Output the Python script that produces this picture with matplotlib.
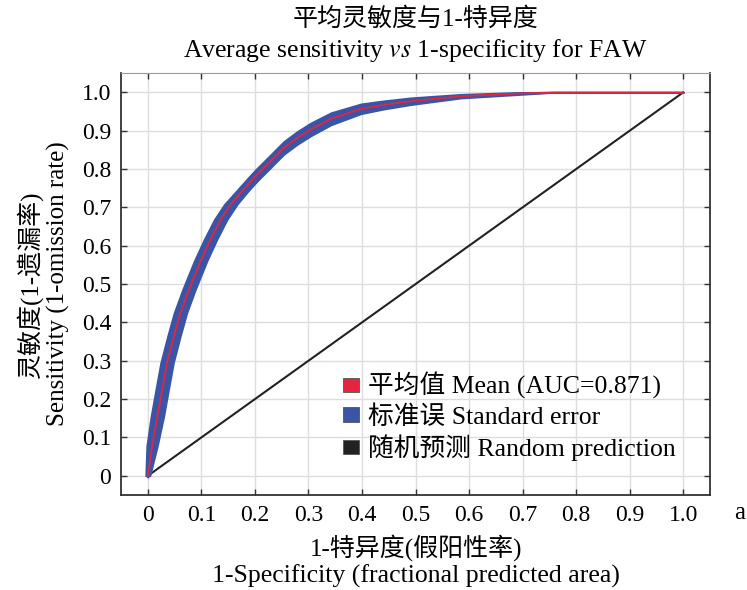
"""ROC curve: mean sensitivity vs 1-specificity for FAW"""

import matplotlib

matplotlib.use("Agg")
import matplotlib.pyplot as plt
from matplotlib.patches import Patch

plt.rcParams["font.family"] = ["Liberation Serif", "Noto Sans CJK SC"]
plt.rcParams["mathtext.fontset"] = "stix"

# mean ROC curve
fpr_mean = [0.0, 0.008, 0.018, 0.027, 0.036, 0.049, 0.061, 0.077, 0.0985, 0.117,
            0.136, 0.155, 0.179, 0.201, 0.229, 0.254, 0.279, 0.304, 0.342, 0.398,
            0.44, 0.492, 0.585, 0.692, 0.76, 0.85, 1.0]
tpr_mean = [0.0, 0.078, 0.156, 0.226, 0.295, 0.365, 0.425, 0.486, 0.560, 0.616,
            0.668, 0.708, 0.747, 0.781, 0.820, 0.855, 0.881, 0.903, 0.931, 0.957,
            0.967, 0.977, 0.990, 0.997, 1.0, 1.0, 1.0]
# half width of the standard error band (vertical / horizontal)
se_tpr = [0.004, 0.006, 0.007, 0.008, 0.009, 0.010, 0.010, 0.011, 0.012, 0.013,
          0.014, 0.015, 0.016, 0.017, 0.017, 0.017, 0.017, 0.017, 0.016, 0.013,
          0.011, 0.009, 0.005, 0.003, 0.0, 0.0, 0.0]
se_fpr = [0.004, 0.010, 0.012, 0.012, 0.012, 0.012, 0.012, 0.012, 0.012, 0.012,
          0.012, 0.012, 0.011, 0.011, 0.010, 0.010, 0.009, 0.008, 0.007, 0.005,
          0.004, 0.003, 0.002, 0.001, 0.0, 0.0, 0.0]
random_x = [0.0, 1.0]
random_y = [0.0, 1.0]
auc = 0.871

ticks = [0.0, 0.1, 0.2, 0.3, 0.4, 0.5, 0.6, 0.7, 0.8, 0.9, 1.0]
tick_labels = ["0", "0.1", "0.2", "0.3", "0.4", "0.5", "0.6", "0.7", "0.8", "0.9", "1.0"]

RED = "#e3263f"
BLUE = "#3a55a6"
BLACK = "#222222"

fig = plt.figure(figsize=(7.47, 5.9), dpi=100)
ax = fig.add_axes([0.162, 0.161, 0.7885, 0.715])

ax.grid(True, color="#dddddd", linewidth=1.0)
ax.set_axisbelow(True)

ax.plot(random_x, random_y, color=BLACK, linewidth=1.5, zorder=2)

lo = [m - s for m, s in zip(tpr_mean, se_tpr)]
hi = [m + s for m, s in zip(tpr_mean, se_tpr)]
ax.fill_between(fpr_mean, lo, hi, color=BLUE, linewidth=1.2, edgecolor=BLUE, zorder=3)
left = [m - s for m, s in zip(fpr_mean, se_fpr)]
right = [m + s for m, s in zip(fpr_mean, se_fpr)]
ax.fill_betweenx(tpr_mean, left, right, color=BLUE, linewidth=1.2, edgecolor=BLUE, zorder=3)
ax.plot(fpr_mean, tpr_mean, color=RED, linewidth=1.3, zorder=4)

ax.set_xlim(-0.05, 1.05)
ax.set_ylim(-0.05, 1.05)
ax.set_xticks(ticks)
ax.set_xticklabels(tick_labels)
ax.set_yticks(ticks)
ax.set_yticklabels(tick_labels)
ax.tick_params(direction="in", length=4, width=1, top=True, right=True,
               labelsize=17, pad=7, color="#333333")
for side in ("left", "bottom", "right"):
    ax.spines[side].set_color("#333333")
    ax.spines[side].set_linewidth(1.3)
ax.spines["top"].set_color("#999999")

handles = [
    Patch(facecolor=RED, edgecolor="#555555", linewidth=0.6),
    Patch(facecolor=BLUE, edgecolor="#555555", linewidth=0.6),
    Patch(facecolor=BLACK, edgecolor="#555555", linewidth=0.6),
]
labels = [
    f"平均值 Mean (AUC={auc})",
    "标准误 Standard error",
    "随机预测 Random prediction",
]
ax.legend(handles, labels, loc="upper left", bbox_to_anchor=(0.36, 0.315),
          frameon=False, fontsize=18.5, handlelength=0.6, handleheight=0.5,
          handletextpad=0.35, labelspacing=0.22, borderaxespad=0)

fig.text(0.5565, 1 - 19 / 590, "平均灵敏度与1-特异度", ha="center", va="center", fontsize=18)
fig.text(0.5565, 1 - 51 / 590, "Average sensitivity $\\mathit{vs}$ 1-specificity for FAW",
         ha="center", va="center", fontsize=18.5)
fig.text(0.5565, 1 - 548 / 590, "1-特异度(假阳性率)", ha="center", va="center", fontsize=18)
fig.text(0.5565, 1 - 576 / 590, "1-Specificity (fractional predicted area)",
         ha="center", va="center", fontsize=18.5)
fig.text(30 / 747, 1 - 284 / 590, "灵敏度(1-遗漏率)", ha="center", va="center",
         rotation=90, fontsize=18)
fig.text(58 / 747, 1 - 284 / 590, "Sensitivity (1-omission rate)", ha="center",
         va="center", rotation=90, fontsize=18)
fig.text(740 / 747, 1 - 513 / 590, "a", ha="center", va="center", fontsize=18)

fig.savefig("out.png", dpi=100)
